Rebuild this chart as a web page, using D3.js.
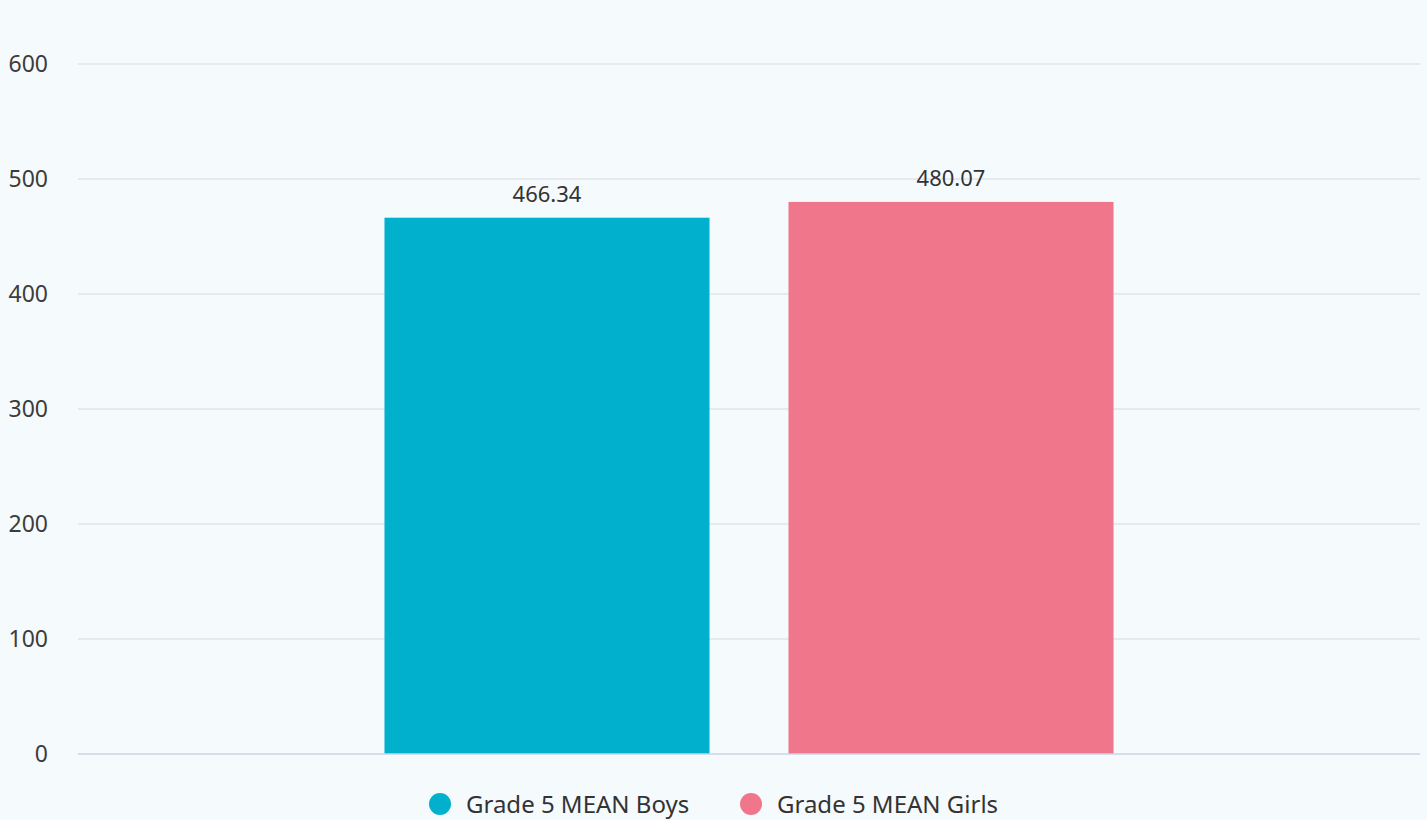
<!DOCTYPE html>
<html>
<head>
<meta charset="utf-8">
<script src="https://cdn.jsdelivr.net/npm/d3@7"></script>
<style>
  body { margin: 0; background: #f5fafd; }
  svg { display: block; font-family: "Noto Sans", "Open Sans", sans-serif; }
</style>
</head>
<body>
<div id="chart"></div>
<script>
var w = 1427;
var h = 820;

// chart data
var categories = [""];
var seriesNames = ["Grade 5 MEAN Boys", "Grade 5 MEAN Girls"];
var seriesValues = [466.34, 480.07];
var seriesColors = ["#00b0cc", "#f0768b"];
var yTicks = [0, 100, 200, 300, 400, 500, 600];

var margin = { top: 64, right: 7, bottom: 66, left: 78 };

var svg = d3.select("#chart")
  .append("svg")
  .attr("width", w)
  .attr("height", h);

svg.append("rect")
  .attr("width", w)
  .attr("height", h)
  .attr("fill", "#f5fafd");

var x0 = d3.scaleBand()
  .domain(categories)
  .range([margin.left, w - margin.right])
  .padding(0);

var x1 = d3.scaleBand()
  .domain(seriesNames)
  .range([0, x0.bandwidth()])
  .paddingInner(0.1955)
  .paddingOuter(0.7586);

var y = d3.scaleLinear()
  .domain([0, 600])
  .range([h - margin.bottom, margin.top]);

// gridlines
svg.append("g")
  .selectAll("line")
  .data(yTicks.filter(function(d) { return d > 0; }))
  .enter()
  .append("line")
  .attr("x1", margin.left)
  .attr("x2", w - margin.right)
  .attr("y1", function(d) { return y(d); })
  .attr("y2", function(d) { return y(d); })
  .attr("stroke", "#e1e5ea")
  .attr("stroke-width", 1.5);

// y axis labels
var yAxis = d3.axisLeft(y)
  .tickValues(yTicks)
  .tickSize(0)
  .tickPadding(30);

var yAxisG = svg.append("g")
  .attr("transform", "translate(" + margin.left + ",0)")
  .call(yAxis);
yAxisG.select(".domain").remove();
yAxisG.selectAll("text")
  .attr("font-size", 23)
  .attr("font-family", "\"Noto Sans\", sans-serif")
  .attr("fill", "#3c3c3c");

// bars
var barData = seriesNames.map(function(name, i) {
  return { name: name, value: seriesValues[i], color: seriesColors[i], cat: categories[0] };
});

svg.append("g")
  .selectAll("rect")
  .data(barData)
  .enter()
  .append("rect")
  .attr("x", function(d) { return x0(d.cat) + x1(d.name); })
  .attr("y", function(d) { return y(d.value); })
  .attr("width", x1.bandwidth())
  .attr("height", function(d) { return y(0) - y(d.value); })
  .attr("fill", function(d) { return d.color; });

// value labels
svg.append("g")
  .selectAll("text")
  .data(barData)
  .enter()
  .append("text")
  .attr("x", function(d) { return x0(d.cat) + x1(d.name) + x1.bandwidth() / 2; })
  .attr("y", function(d) { return y(d.value) - 16; })
  .attr("text-anchor", "middle")
  .attr("font-size", 22)
  .attr("fill", "#333")
  .text(function(d) { return d.value.toFixed(2); });

// baseline
svg.append("line")
  .attr("x1", margin.left)
  .attr("x2", w - margin.right)
  .attr("y1", y(0))
  .attr("y2", y(0))
  .attr("stroke", "#c9d5e8")
  .attr("stroke-width", 1.5);

// legend
var legendX = [440, 751];
var legend = svg.append("g")
  .selectAll("g")
  .data(barData)
  .enter()
  .append("g")
  .attr("transform", function(d, i) { return "translate(" + legendX[i] + ",804)"; });

legend.append("circle")
  .attr("r", 11)
  .attr("fill", function(d) { return d.color; });

legend.append("text")
  .attr("x", 26)
  .attr("y", 9)
  .attr("font-size", 24)
  .attr("fill", "#333")
  .text(function(d) { return d.name; });
</script>
</body>
</html>
